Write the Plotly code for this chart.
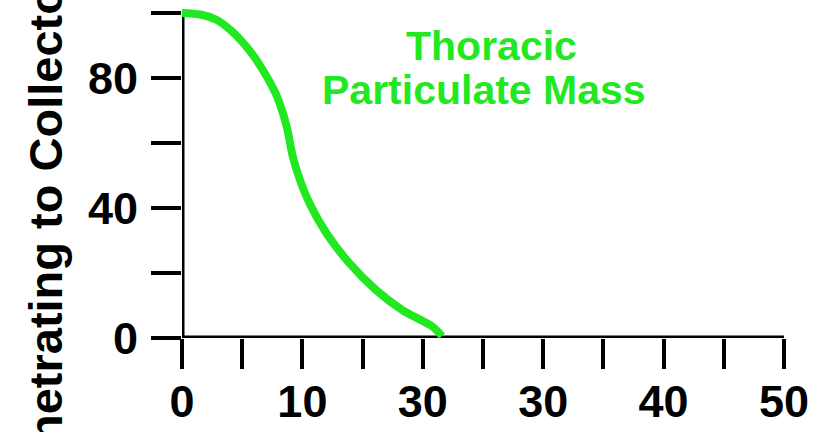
import plotly.graph_objects as go

# Data
size_um = [0, 1.5, 2.9, 4.0, 5.1, 6.0, 6.7, 7.4, 7.9, 8.7, 9.2, 9.8, 10.6, 12.0, 13.9, 16.1, 18.3, 20.8, 21.6]
penetration = [100, 99.5, 97.8, 94.8, 90.7, 86.5, 82.5, 78.0, 74.2, 65.0, 55.8, 48.6, 41.4, 32.2, 23.0, 14.8, 8.6, 3.5, 0.6]

x_tickvals = [0, 5, 10, 15, 20, 25, 30, 35, 40, 45, 50]
x_ticktext = ["0", "", "10", "", "30", "", "30", "", "40", "", "50"]
y_tickvals = [0, 20, 40, 60, 80, 100]
y_ticktext = ["0", "", "40", "", "80", ""]

GREEN = "#22e822"
FONT = "Liberation Sans"

fig = go.Figure()
fig.add_trace(go.Scatter(
    x=size_um, y=penetration, mode="lines",
    line=dict(color=GREEN, width=8, shape="spline", smoothing=0.8),
    cliponaxis=False, hoverinfo="skip", showlegend=False,
))

fig.update_layout(
    width=817, height=432,
    margin=dict(l=182, r=33, t=8, b=94),
    paper_bgcolor="white", plot_bgcolor="white",
    font=dict(family=FONT, color="black"),
    showlegend=False,
)
fig.update_xaxes(
    range=[0, 50], tickvals=x_tickvals, ticktext=x_ticktext, automargin=False,
    ticks="outside", ticklen=30, tickwidth=4, tickcolor="black",
    showline=False, showgrid=False, zeroline=False, ticklabelstandoff=-6,
    tickfont=dict(family=FONT, size=45, color="black", weight="bold"),
)
fig.update_yaxes(
    range=[0, 101.5], tickvals=y_tickvals, ticktext=y_ticktext, automargin=False,
    ticks="outside", ticklen=30, tickwidth=4, tickcolor="black",
    showline=False, showgrid=False, zeroline=False, ticklabelstandoff=4,
    tickfont=dict(family=FONT, size=45, color="black", weight="bold"),
)
# axis lines
fig.add_shape(type="line", xref="x", yref="y", x0=0, x1=50, y0=0, y1=0,
              line=dict(color="black", width=5), layer="below")
fig.add_shape(type="line", xref="x", yref="y", x0=0, x1=0, y0=0, y1=100,
              line=dict(color="black", width=5), layer="below")

def px_x(p):
    return (p - 182) / 602

def px_y(p):
    return (338 - p) / 330

fig.add_annotation(
    text="Thoracic", xref="paper", yref="paper",
    x=px_x(491), y=px_y(46), xanchor="center", yanchor="middle",
    showarrow=False, font=dict(family=FONT, size=41, color=GREEN, weight="bold"),
)
fig.add_annotation(
    text="Particulate Mass", xref="paper", yref="paper",
    x=px_x(484), y=px_y(90), xanchor="center", yanchor="middle",
    showarrow=False, font=dict(family=FONT, size=41, color=GREEN, weight="bold"),
)
fig.add_annotation(
    text="Percent Penetrating to Collector", xref="paper", yref="paper",
    x=px_x(45), y=px_y(327), xanchor="center", yanchor="middle", textangle=-90,
    showarrow=False, font=dict(family=FONT, size=47, color="black", weight="bold"),
)

fig.write_html("out.html", post_script="document.body.style.margin='0';",
               config={"displayModeBar": False})
